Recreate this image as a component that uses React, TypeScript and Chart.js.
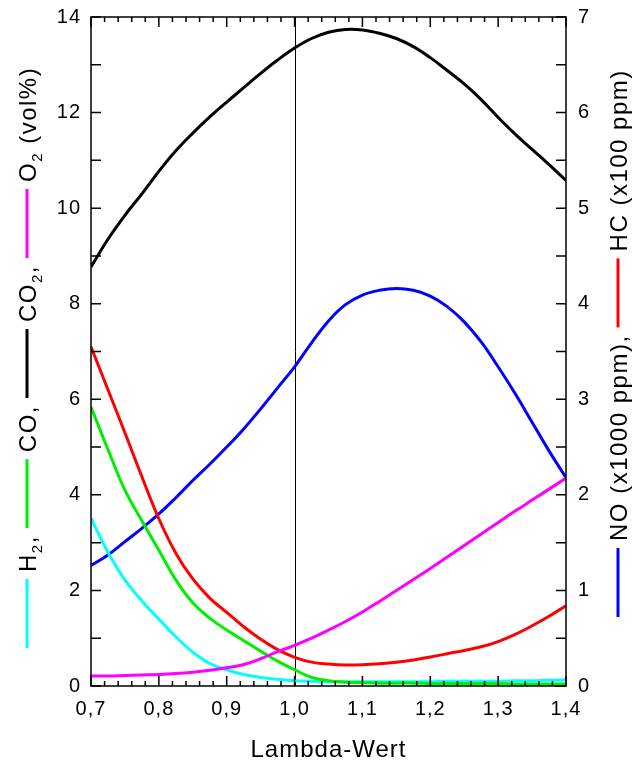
import React, { useEffect, useRef } from "react";
import { Chart, registerables } from "chart.js";

Chart.register(...registerables);

// Lambda values (x)
const lambda = [
  0.7, 0.725, 0.75, 0.775, 0.8, 0.825, 0.85, 0.875, 0.9, 0.925, 0.95, 0.975, 1.0, 1.025, 1.05,
  1.075, 1.1, 1.125, 1.15, 1.175, 1.2, 1.225, 1.25, 1.275, 1.3, 1.325, 1.35, 1.375, 1.4,
];

// left axis (vol%)
const co2 = [
  8.77, 9.35, 9.85, 10.3, 10.77, 11.2, 11.57, 11.91, 12.22, 12.52, 12.82, 13.1, 13.35, 13.55, 13.68,
  13.74, 13.73, 13.66, 13.55, 13.38, 13.15, 12.88, 12.6, 12.27, 11.9, 11.55, 11.23, 10.91, 10.58,
];
const co = [
  5.84, 4.95, 4.1, 3.46, 2.84, 2.22, 1.74, 1.42, 1.17, 0.95, 0.73, 0.52, 0.34, 0.18, 0.11,
  0.08, 0.07, 0.06, 0.06, 0.06, 0.05, 0.05, 0.05, 0.05, 0.05, 0.04, 0.04, 0.04, 0.04,
];
const h2 = [
  3.51, 2.8, 2.22, 1.78, 1.4, 1.03, 0.71, 0.47, 0.34, 0.24, 0.18, 0.14, 0.11, 0.1, 0.09,
  0.09, 0.09, 0.09, 0.09, 0.09, 0.09, 0.1, 0.1, 0.1, 0.1, 0.11, 0.11, 0.12, 0.13,
];
const o2 = [
  0.21, 0.21, 0.22, 0.23, 0.24, 0.26, 0.29, 0.33, 0.38, 0.45, 0.57, 0.72, 0.85, 1.0, 1.17,
  1.35, 1.55, 1.77, 2.0, 2.23, 2.46, 2.7, 2.94, 3.18, 3.42, 3.66, 3.89, 4.12, 4.35,
];
// right axis
const no = [
  1.26, 1.37, 1.51, 1.65, 1.8, 1.97, 2.15, 2.32, 2.5, 2.69, 2.9, 3.12, 3.34, 3.59, 3.82,
  3.99, 4.09, 4.14, 4.16, 4.14, 4.08, 3.97, 3.81, 3.6, 3.34, 3.06, 2.76, 2.46, 2.18,
];
const hc = [
  3.55, 3.1, 2.65, 2.19, 1.75, 1.39, 1.12, 0.92, 0.77, 0.62, 0.49, 0.38, 0.3, 0.25, 0.23,
  0.22, 0.222, 0.232, 0.248, 0.272, 0.303, 0.338, 0.372, 0.41, 0.465, 0.54, 0.63, 0.73, 0.84,
];

const xTicks = [0.7, 0.8, 0.9, 1.0, 1.1, 1.2, 1.3, 1.4];
const xLabels = ["0,7", "0,8", "0,9", "1,0", "1,1", "1,2", "1,3", "1,4"];
const xTitle = "Lambda-Wert";

const FONT = "'Liberation Sans', Arial, sans-serif";

const toXY = (ys: number[]) => lambda.map((x, i) => ({ x, y: ys[i] }));

type Part = { t: string; sub?: boolean };
type Item = { line?: string; parts?: Part[] };

const leftTitle: Item[] = [
  { line: "#00ffff" },
  { parts: [{ t: "H" }, { t: "2", sub: true }, { t: "," }] },
  { line: "#00ee00" },
  { parts: [{ t: "CO," }] },
  { line: "#000000" },
  { parts: [{ t: "CO" }, { t: "2", sub: true }, { t: "," }] },
  { line: "#ff00ff" },
  { parts: [{ t: "O" }, { t: "2", sub: true }, { t: " (vol%)" }] },
];
const rightTitle: Item[] = [
  { line: "#0000ff" },
  { parts: [{ t: "NO (x1000 ppm)," }] },
  { line: "#ff0000" },
  { parts: [{ t: "HC (x100 ppm)" }] },
];

function drawVerticalTitle(ctx: CanvasRenderingContext2D, cx: number, yBottom: number, items: Item[]) {
  const LINE_LEN = 69;
  const GAP = 7;
  ctx.save();
  ctx.translate(cx, yBottom);
  ctx.rotate(-Math.PI / 2);
  ctx.fillStyle = "#000";
  ctx.textAlign = "left";
  ctx.textBaseline = "alphabetic";
  (ctx as any).letterSpacing = "1.5px";
  let pos = 0;
  for (const it of items) {
    if (it.line) {
      ctx.strokeStyle = it.line;
      ctx.lineWidth = 3;
      ctx.beginPath();
      ctx.moveTo(pos, 0);
      ctx.lineTo(pos + LINE_LEN, 0);
      ctx.stroke();
      pos += LINE_LEN + GAP;
    } else if (it.parts) {
      for (const p of it.parts) {
        ctx.font = p.sub ? `15px ${FONT}` : `24px ${FONT}`;
        ctx.fillText(p.t, pos, p.sub ? 15 : 9);
        pos += ctx.measureText(p.t).width;
      }
      pos += GAP;
    }
  }
  ctx.restore();
}

const decor = {
  id: "decor",
  beforeDraw(chart: any) {
    (chart.ctx as any).letterSpacing = "1px";
  },
  beforeDatasetsDraw(chart: any) {
    const { ctx, chartArea: a, scales } = chart;
    const px = scales.x.getPixelForValue(1.0);
    ctx.save();
    ctx.strokeStyle = "#000";
    ctx.lineWidth = 1;
    ctx.beginPath();
    ctx.moveTo(Math.round(px) + 0.5, a.top);
    ctx.lineTo(Math.round(px) + 0.5, a.bottom);
    ctx.stroke();
    ctx.restore();
  },
  afterDatasetsDraw(chart: any) {
    const { ctx, chartArea: a, scales } = chart;
    ctx.save();
    ctx.strokeStyle = "#000";
    ctx.lineWidth = 1.5;
    ctx.strokeRect(a.left, a.top, a.right - a.left, a.bottom - a.top);
    ctx.beginPath();
    // x ticks (bottom & top), minor every 0.02
    for (let i = 0; i <= 35; i++) {
      const v = 0.7 + i * 0.02;
      const p = scales.x.getPixelForValue(v);
      const len = i % 5 === 0 ? 10 : 5;
      ctx.moveTo(p, a.bottom);
      ctx.lineTo(p, a.bottom - len);
      ctx.moveTo(p, a.top);
      ctx.lineTo(p, a.top + len);
    }
    // left ticks every 1
    for (let v = 0; v <= 14; v++) {
      const p = scales.y.getPixelForValue(v);
      ctx.moveTo(a.left, p);
      ctx.lineTo(a.left + 10, p);
    }
    // right ticks every 0.5
    for (let i = 0; i <= 14; i++) {
      const p = scales.y1.getPixelForValue(i * 0.5);
      ctx.moveTo(a.right, p);
      ctx.lineTo(a.right - 10, p);
    }
    ctx.stroke();
    ctx.restore();
  },
  afterDraw(chart: any) {
    const { ctx, chartArea: a } = chart;
    ctx.save();
    ctx.fillStyle = "#000";
    ctx.font = `24px ${FONT}`;
    (ctx as any).letterSpacing = "1px";
    ctx.textAlign = "center";
    ctx.textBaseline = "alphabetic";
    ctx.fillText(xTitle, (a.left + a.right) / 2, 757);
    ctx.restore();
    drawVerticalTitle(ctx, 27, 648, leftTitle);
    drawVerticalTitle(ctx, 618, 617, rightTitle);
  },
};

export default function App() {
  const ref = useRef<HTMLCanvasElement | null>(null);
  useEffect(() => {
    if (!ref.current) return;
    const line = (label: string, data: number[], color: string, axis: string) => ({
      label,
      data: toXY(data),
      borderColor: color,
      backgroundColor: color,
      borderWidth: 3,
      pointRadius: 0,
      tension: 0.4,
      yAxisID: axis,
      fill: false,
    });
    const fitV = (w: number) => (s: any) => {
      s.width = w;
      s.paddingTop = 0;
      s.paddingBottom = 0;
    };
    const chart = new Chart(ref.current, {
      type: "line",
      data: {
        datasets: [
          line("O2", o2, "#ff00ff", "y"),
          line("HC", hc, "#ff0000", "y1"),
          line("CO", co, "#00ee00", "y"),
          line("H2", h2, "#00ffff", "y"),
          line("NO", no, "#0000ff", "y1"),
          line("CO2", co2, "#000000", "y"),
        ],
      },
      options: {
        animation: false,
        responsive: false,
        maintainAspectRatio: false,
        layout: { padding: { top: 17, left: 0, right: 0, bottom: 0 } },
        plugins: { legend: { display: false }, tooltip: { enabled: false } },
        scales: {
          x: {
            type: "linear",
            min: 0.7,
            max: 1.4,
            afterFit: (s: any) => {
              s.height = 77;
              s.paddingLeft = 0;
              s.paddingRight = 0;
            },
            afterBuildTicks: (s: any) => {
              s.ticks = xTicks.map((v) => ({ value: v }));
            },
            grid: { display: false, drawTicks: false },
            border: { display: false },
            ticks: {
              padding: 11,
              color: "#000",
              font: { family: FONT, size: 20 },
              maxRotation: 0,
              callback: (v: any) => {
                const i = xTicks.findIndex((t) => Math.abs(t - Number(v)) < 1e-6);
                return i >= 0 ? xLabels[i] : "";
              },
            },
          },
          y: {
            position: "left",
            min: 0,
            max: 14,
            afterFit: fitV(91),
            grid: { display: false, drawTicks: false },
            border: { display: false },
            ticks: { stepSize: 2, padding: 10, color: "#000", font: { family: FONT, size: 20 } },
          },
          y1: {
            position: "right",
            min: 0,
            max: 7,
            afterFit: fitV(72),
            grid: { display: false, drawTicks: false },
            border: { display: false },
            ticks: { stepSize: 1, padding: 12, color: "#000", font: { family: FONT, size: 20 } },
          },
        },
      },
      plugins: [decor],
    });
    return () => chart.destroy();
  }, []);
  return (
    <div style={{ position: "fixed", left: 0, top: 0, width: 638, height: 763, background: "#fff" }}>
      <canvas ref={ref} width={638} height={763} style={{ display: "block", width: 638, height: 763 }} />
    </div>
  );
}
